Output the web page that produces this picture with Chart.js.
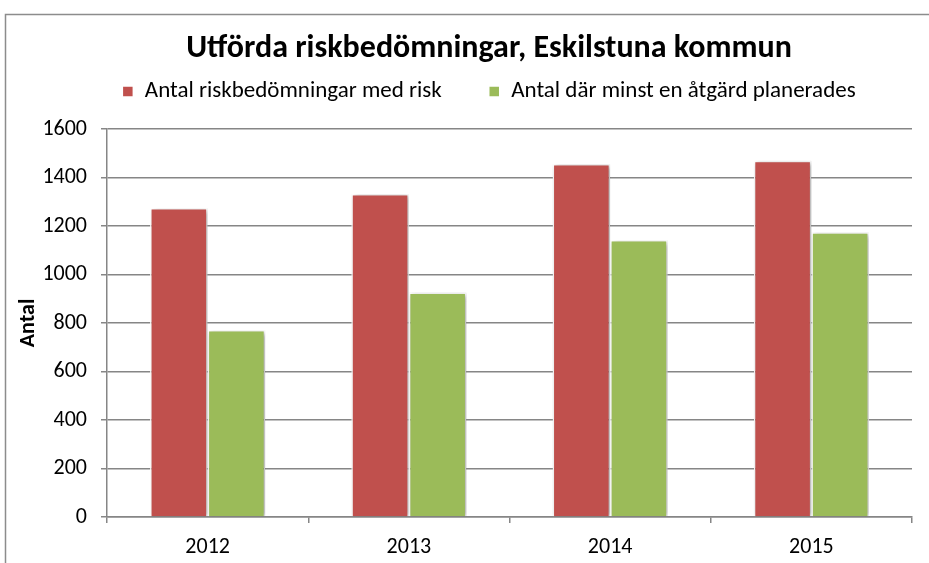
<!DOCTYPE html>
<html>
<head>
<meta charset="utf-8">
<script src="https://cdn.jsdelivr.net/npm/chart.js@4.4.1/dist/chart.umd.min.js"></script>
<style>
  html, body { margin: 0; padding: 0; background: #fff; }
  #wrap { width: 929px; height: 563px; position: relative; }
</style>
</head>
<body>
<div id="wrap"><canvas id="chart"></canvas></div>
<script>
var years = ['2012', '2013', '2014', '2015'];
var medRisk = [1274, 1332, 1456, 1469];
var planerade = [771, 926, 1142, 1174];
var yTicks = [0, 200, 400, 600, 800, 1000, 1200, 1400, 1600];

var FONT = '"Carlito", "Lato", "Open Sans", sans-serif';
var GRID = '#868686';

// frame around the whole chart, like the Excel chart border
var framePlugin = {
    id: 'frame',
    beforeDraw: function(chart) {
        var ctx = chart.ctx;
        ctx.save();
        ctx.strokeStyle = '#8c8c8c';
        ctx.lineWidth = 1.5;
        ctx.strokeRect(5.5, 14.5, 960, 600);
        ctx.restore();
    }
};

// soft shadow behind the bars
var shadowPlugin = {
    id: 'barShadow',
    beforeDatasetsDraw: function(chart) {
        var ctx = chart.ctx;
        ctx.save();
        ctx.shadowColor = 'rgba(0,0,0,0.35)';
        ctx.shadowBlur = 5;
        ctx.shadowOffsetX = 2;
        ctx.shadowOffsetY = 1;
    },
    afterDatasetsDraw: function(chart) {
        chart.ctx.restore();
    }
};

// title and legend sit a bit right of the canvas centre in the original,
// and the legend row is closer to the title than chart.js would put it
var shiftPlugin = {
    id: 'shiftHeader',
    afterLayout: function(chart) {
        var t = chart.titleBlock, l = chart.legend;
        if (t) { t.left += 33; t.right += 33; }
        if (l) { l.left += 33; l.right += 33; l.top -= 16; l.bottom -= 16; }
    }
};

new Chart(document.getElementById('chart'), {
    type: 'bar',
    data: {
        labels: years,
        datasets: [{
            label: 'Antal riskbedömningar med risk',
            data: medRisk,
            backgroundColor: '#C0504D',
            borderColor: '#ffffff',
            borderWidth: 1.5
        }, {
            label: 'Antal där minst en åtgärd planerades',
            data: planerade,
            backgroundColor: '#9BBB59',
            borderColor: '#ffffff',
            borderWidth: 1.5
        }]
    },
    options: {
        responsive: true,
        maintainAspectRatio: false,
        animation: false,
        layout: { padding: { left: 0, right: 17, top: 0, bottom: 0 } },
        categoryPercentage: 0.572,
        barPercentage: 1.0,
        plugins: {
            title: {
                display: true,
                text: 'Utförda riskbedömningar, Eskilstuna kommun',
                color: '#000',
                font: { family: FONT, size: 32, weight: 'bold' },
                padding: { top: 30, bottom: -19.4 }
            },
            legend: {
                display: true,
                labels: {
                    color: '#000',
                    font: { family: FONT, size: 23 },
                    boxWidth: 11,
                    boxHeight: 11,
                    padding: 47
                }
            },
            tooltip: { enabled: false }
        },
        scales: {
            x: {
                grid: {
                    offset: true,
                    drawOnChartArea: false,
                    drawTicks: true,
                    tickLength: 6,
                    color: GRID,
                    lineWidth: 1.5
                },
                border: { display: true, color: GRID, width: 1.5 },
                ticks: {
                    color: '#000',
                    font: { family: FONT, size: 22 },
                    padding: 11
                },
                afterFit: function(scale) { scale.height = 46; }
            },
            y: {
                min: 0,
                max: 1600,
                afterBuildTicks: function(scale) {
                    scale.ticks = yTicks.map(function(v) { return { value: v }; });
                },
                grid: {
                    color: GRID,
                    lineWidth: 1.5,
                    tickLength: 6
                },
                border: { display: true, color: GRID, width: 1.5 },
                ticks: {
                    color: '#000',
                    font: { family: FONT, size: 22 },
                    padding: 14,
                    callback: function(v) { return String(v); }
                },
                title: {
                    display: true,
                    text: 'Antal',
                    color: '#000',
                    font: { family: FONT, size: 22, weight: 'bold' },
                    padding: { top: 15, bottom: 0 }
                },
                afterFit: function(scale) { scale.width = 107; }
            }
        }
    },
    plugins: [framePlugin, shadowPlugin, shiftPlugin]
});
</script>
</body>
</html>
